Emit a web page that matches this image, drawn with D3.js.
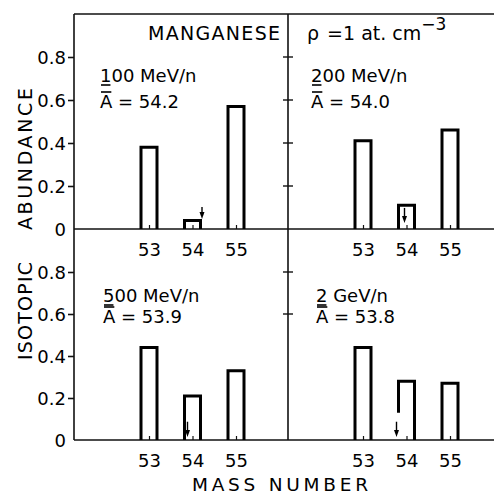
<!DOCTYPE html>
<html>
<head>
<meta charset="utf-8">
<script src="https://cdn.jsdelivr.net/npm/d3@7"></script>
<style>
  html, body { margin: 0; padding: 0; background: #fff; }
  svg { display: block; }
  text { font-family: "DejaVu Sans", sans-serif; fill: #000; }
</style>
</head>
<body>
<script>
// Isotopic abundance of manganese fragments at four beam energies
const massNumbers = [53, 54, 55];
const massLabels = ["53", "54", "55"];
const energyLabels = ["100 MeV/n", "200 MeV/n", "500 MeV/n", "2 GeV/n"];
const meanMassLabels = ["54.2", "54.0", "53.9", "53.8"];
const abundance100MeV = [0.38, 0.04, 0.57];
const abundance200MeV = [0.41, 0.11, 0.46];
const abundance500MeV = [0.44, 0.21, 0.33];
const abundance2GeV = [0.44, 0.28, 0.27];
const yTickValues = [0, 0.2, 0.4, 0.6, 0.8];
const yTickLabels = ["0", "0.2", "0.4", "0.6", "0.8"];
// upper-limit arrows on the A = 54 bar: [from, to] abundance
const limitArrows = [[0.102, 0.046], [0.098, 0.028], [0.087, 0.014], [0.087, 0.014]];

const W = 494, H = 496;
const svg = d3.select("body").append("svg").attr("width", W).attr("height", H);

const frameLeft = 74, frameTop = 14, divider = 288, frameRight = W + 5;

const yTop = d3.scaleLinear().domain([0, 0.8]).range([229, 57]);
const yBottom = d3.scaleLinear().domain([0, 0.8]).range([440, 272]);

const panels = [
  { x0: frameLeft, y: yTop, values: abundance100MeV, arrowDx: 9.5, gap: 0, divTicks: [0.2, 0.4, 0.6, 0.8], lx: 100, ly1: 82, ly2: 108 },
  { x0: divider, y: yTop, values: abundance200MeV, arrowDx: -2, gap: 0, divTicks: [], lx: 311, ly1: 82, ly2: 108 },
  { x0: frameLeft, y: yBottom, values: abundance500MeV, arrowDx: -5, gap: 0, divTicks: [0.6, 0.8], lx: 103, ly1: 302, ly2: 323 },
  { x0: divider, y: yBottom, values: abundance2GeV, arrowDx: -10, gap: 0.13, divTicks: [], lx: 316, ly1: 302, ly2: 323 }
];

const frame = svg.append("g").attr("stroke", "#111").attr("stroke-width", 1.6).attr("fill", "none");
frame.append("line").attr("x1", frameLeft).attr("x2", frameRight).attr("y1", frameTop).attr("y2", frameTop);
frame.append("line").attr("x1", frameLeft).attr("x2", frameLeft).attr("y1", frameTop).attr("y2", yBottom(0));
frame.append("line").attr("x1", divider).attr("x2", divider).attr("y1", frameTop).attr("y2", yBottom(0));
frame.append("line").attr("x1", frameLeft).attr("x2", frameRight).attr("y1", yTop(0)).attr("y2", yTop(0));
frame.append("line").attr("x1", frameLeft).attr("x2", frameRight).attr("y1", yBottom(0)).attr("y2", yBottom(0));

// left value axes
[yTop, yBottom].forEach(ys => {
  const ax = d3.axisLeft(ys).tickValues(yTickValues)
    .tickFormat((d, i) => yTickLabels[i]).tickSize(6).tickPadding(2);
  const g = svg.append("g").attr("transform", `translate(${frameLeft},0)`).call(ax);
  g.select(".domain").remove();
  g.selectAll(".tick line").attr("stroke", "#111").attr("stroke-width", 1.6)
    .filter(d => d === 0).remove();
  g.selectAll(".tick text").attr("font-size", 18).attr("fill", "#000")
    .attr("font-family", "DejaVu Sans, sans-serif").attr("dy", "0.36em");
});

panels.forEach((p, k) => {
  const x = d3.scaleLinear().domain([53, 55]).range([p.x0 + 75, p.x0 + 162]);
  const ys = p.y;
  const g = svg.append("g");

  // cross ticks on the dividing line
  g.selectAll("line.div").data(p.divTicks).join("line")
    .attr("x1", divider - 5).attr("x2", divider + 5)
    .attr("y1", d => ys(d)).attr("y2", d => ys(d))
    .attr("stroke", "#111").attr("stroke-width", 1.4);

  // mass number axis
  const ax = d3.axisBottom(x).tickValues(massNumbers)
    .tickFormat((d, i) => massLabels[i]).tickSize(-4).tickPadding(14);
  const ga = g.append("g").attr("transform", `translate(0,${ys(0)})`).call(ax);
  ga.select(".domain").remove();
  ga.selectAll(".tick line").attr("stroke", "#111").attr("stroke-width", 1.2);
  ga.selectAll(".tick text").attr("font-size", 18).attr("fill", "#000")
    .attr("font-family", "DejaVu Sans, sans-serif");

  // open-bottomed bars
  const half = 8;
  g.selectAll("path.bar").data(massNumbers).join("path")
    .attr("fill", "none").attr("stroke", "#000").attr("stroke-width", 3)
    .attr("stroke-linejoin", "miter")
    .attr("d", (m, i) => {
      const cx = x(m), top = ys(p.values[i]), base = ys(0);
      const leftEnd = (m === 54 && p.gap) ? ys(p.gap) : base;
      return `M${cx - half},${leftEnd}V${top}H${cx + half}V${base}`;
    });

  // upper-limit arrow
  const [a0, a1] = limitArrows[k];
  const axp = x(54) + p.arrowDx;
  g.append("line").attr("x1", axp).attr("x2", axp)
    .attr("y1", ys(a0)).attr("y2", ys(a1) - 4)
    .attr("stroke", "#000").attr("stroke-width", 1.4);
  g.append("path").attr("fill", "#000")
    .attr("d", `M${axp - 2.5},${ys(a1) - 7}L${axp + 2.5},${ys(a1) - 7}L${axp},${ys(a1)}Z`);

  // energy and mean-mass labels
  const t1 = g.append("text").attr("x", p.lx).attr("y", p.ly1).attr("font-size", 18)
    .text(energyLabels[k]);
  const t2 = g.append("text").attr("x", p.lx).attr("y", p.ly2).attr("font-size", 18)
    .attr("xml:space", "preserve")
    .text("A = " + meanMassLabels[k]);
  const e1 = t1.node().getExtentOfChar(0);
  g.append("line").attr("x1", e1.x + 1).attr("x2", e1.x + e1.width - 1)
    .attr("y1", p.ly1 + 3).attr("y2", p.ly1 + 3).attr("stroke", "#000").attr("stroke-width", 1.6);
  const e2 = t2.node().getExtentOfChar(0);
  g.append("line").attr("x1", e2.x + 1).attr("x2", e2.x + e2.width - 1)
    .attr("y1", p.ly2 - 16).attr("y2", p.ly2 - 16).attr("stroke", "#000").attr("stroke-width", 1.6);
});

// title
svg.append("text").attr("x", 148).attr("y", 40).attr("font-size", 19)
  .attr("textLength", 132).text("MANGANESE");
const rho = svg.append("text").attr("x", 307).attr("y", 40).attr("font-size", 19);
rho.append("tspan").text("ρ ");
rho.append("tspan").attr("dx", 2).text("=1 at. cm");
rho.append("tspan").attr("dy", -10).attr("font-size", 17).text("−3");

// axis titles
svg.append("text").attr("transform", "translate(32,159) rotate(-90)")
  .attr("text-anchor", "middle").attr("font-size", 19).attr("textLength", 142)
  .text("ABUNDANCE");
svg.append("text").attr("transform", "translate(32,311) rotate(-90)")
  .attr("text-anchor", "middle").attr("font-size", 19).attr("textLength", 98)
  .text("ISOTOPIC");
svg.append("text").attr("x", 280).attr("y", 491).attr("text-anchor", "middle")
  .attr("font-size", 18.5).attr("textLength", 176).text("MASS NUMBER");
</script>
</body>
</html>
